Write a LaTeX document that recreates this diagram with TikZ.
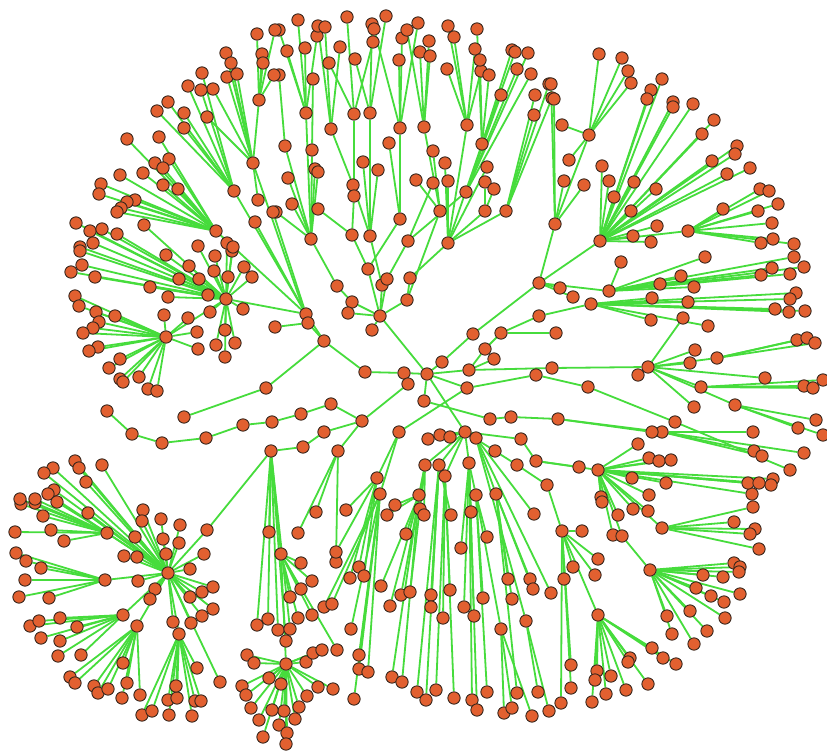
\documentclass[tikz,border=0pt]{standalone}
\pgfdeclarelayer{bg}
\pgfsetlayers{bg,main}
\definecolor{vfill}{RGB}{226,96,48}
\definecolor{vline}{RGB}{55,38,28}
\definecolor{egreen}{RGB}{70,220,60}
\tikzset{
  v/.style={circle,draw=vline,fill=vfill,line width=0.9pt,minimum size=12.3pt,inner sep=0pt},
  e/.style={draw=egreen,line width=1.8pt}
}
% edges are collected here and drawn once, beneath all vertices
\gdef\edgelist{}
\newcommand\addedge[2]{\xdef\edgelist{\unexpanded\expandafter{\edgelist}\noexpand\draw[e] (#1) -- (#2);}}
% a named vertex joined to its parent
\newcommand\tnode[4]{\node[v] (#1) at (#2,#3) {};\addedge{#4}{#1}}
% a set of leaves hanging from one parent
\newcommand\tfan[2]{\foreach \px/\py [count=\i] in {#2}{%
  \node[v] (#1-\i) at (\px,\py) {};\addedge{#1}{#1-\i}}}
\begin{document}
\begin{tikzpicture}[x=1pt,y=-1pt]
\useasboundingbox (0,0) rectangle (827,751);
% ---- centre
\node[v] (R) at (427,374) {};
\tnode{A}{404}{373}{R}
\tnode{B}{408}{384}{A}
\tnode{C}{365}{372}{A}
\tnode{I}{324}{341}{C}
\tnode{E}{442}{362}{R}
\tnode{F}{469}{370}{R}
\tnode{G}{467}{388}{R}
\tnode{D}{424}{401}{R}
\tnode{H}{380}{316}{R}
\tnode{K}{465}{432}{R}
\tnode{J}{362}{421}{B}
% ---- upper fan
\tnode{Hb}{382}{285}{H}
\tnode{Ha}{368}{269}{H}
\tnode{He}{387}{279}{H}
\tnode{Hd}{407}{300}{H}
\tnode{Hc}{410}{278}{Hd}
\tnode{H2}{352}{302}{H}
\tnode{H1}{348}{313}{H}
\tnode{H3}{337}{286}{H2}
\tfan{H}{372/330}
\tnode{T1}{311}{239}{H3}
\tnode{T2}{352}{235}{Ha}
\tnode{T3}{370}{236}{Hb}
\tnode{T4}{408}{241}{He}
\tnode{T5}{448}{243}{Hc}
\tnode{T6}{400}{219}{Ha}
\tnode{T7}{440}{211}{Hd}
\tnode{T8}{353}{185}{T3}
\tnode{T9}{354}{196}{T2}
\tnode{S1}{306}{113}{T1}
\tnode{S2}{331}{129}{T8}
\tnode{S3}{354}{114}{T9}
\tnode{S4}{370}{113}{T3}
\tnode{S5}{400}{128}{T6}
\tnode{S6}{424}{127}{T7}
\tnode{S7}{467}{125}{T5}
\tnode{S8}{482}{144}{T5}
\tnode{S13}{285}{146}{T1}
\tnode{S14}{312}{150}{T1}
\tnode{S15}{389}{143}{T6}
\tnode{S16}{466}{192}{T4}
\tnode{Q1}{485}{211}{T5}
\tnode{Q2}{506}{211}{T5}
\tfan{S1}{298/20,317/36,279/30,287/51,305/48}
\tfan{S2}{318/26,325/27,340/47}
\tfan{S3}{347/17,373/42,329/63}
\tfan{S4}{386/16,372/24,355/59}
\tfan{S5}{374/29,418/23,402/38,399/60}
\tfan{S6}{407/30,429/41,420/52,430/56}
\tfan{S7}{448/26,454/37,475/49,447/69,481/71}
\tfan{S8}{477/29,480/60,489/75,512/50,515/52}
\tfan{S16}{528/53,517/69,531/74,501/95}
\tfan{Q2}{535/95,552/98,534/115,549/84}
\tfan{S13}{279/75}
\tfan{S14}{313/79}
\tfan{T1}{315/169,318/172,288/178,292/204,276/212}
\tfan{T2}{318/209}
\tfan{T3}{363/162,378/170}
\tfan{T7}{433/151,416/180}
\tfan{T4}{433/183}
\tfan{T5}{445/163,448/181,487/167}
\tfan{Q1}{485/182,494/189}
% ---- upper left
\tnode{I1}{306}{314}{I}
\tnode{I2}{308}{323}{I}
\tnode{S11}{216}{231}{I1}
\tnode{S10}{234}{191}{I1}
\tnode{S9}{253}{163}{I2}
\tnode{S12}{259}{100}{S9}
\tfan{S12}{257/34,275/30,262/54,263/63,274/75}
\tfan{S9}{226/53,231/63,227/77,237/74,213/89,207/117,258/200}
\tfan{S10}{202/73,188/86,201/90,168/102,184/113,184/128,157/111}
\tfan{S11}{127/139,159/137,155/163,169/159,163/168,143/173,120/175,163/185,178/189,101/184,99/194,135/200,127/202,121/208,117/212}
\tfan{I1}{273/212,255/222}
\tfan{I2}{275/327}
\tnode{U1}{226}{299}{I1}
\tnode{U2}{166}{337}{U1}
\tfan{U1}{232/251,244/267,252/277,228/277,215/256,214/271,189/266,199/279,208/295,243/309,225/330,235/343,216/345,225/357,210/312,179/279,166/255,150/287,168/297,76/223,90/231,102/229,117/234,144/225,93/243,80/247,80/251,82/265,71/272,95/277,227/243,233/247,198/246}
\tfan{U2}{75/296,79/306,96/312,115/316,99/322,93/328,83/333,164/315,188/318,197/332,198/349,98/347,89/351,120/359,109/368,139/377,120/379,123/382,148/389,157/391}
\tnode{I3}{266}{388}{I}
\tfan{I3}{184/417}
% ---- left chain
\tnode{J1}{331}{404}{J}
\tnode{J2}{301}{414}{J1}
\tnode{J3}{272}{422}{J2}
\tnode{J4}{243}{425}{J3}
\tnode{J5}{206}{438}{J4}
\tnode{J6}{162}{443}{J5}
\tnode{J7}{132}{434}{J6}
\tnode{J8}{107}{411}{J7}
% ---- lower left
\tnode{J9}{324}{432}{J}
\tnode{J10}{303}{447}{J9}
\tnode{L}{271}{451}{J10}
\tnode{J11}{338}{451}{J}
\tnode{LM}{207}{530}{L}
\tnode{M}{168}{573}{LM}
\tnode{M1}{105}{580}{M}
\tnode{M2}{107}{533}{M}
\tnode{M3}{123}{615}{M}
\tnode{M4}{137}{626}{M}
\tnode{M5}{179}{634}{M}
\tfan{M}{75/461,79/468,53/468,44/473,102/465,86/482,54/490,48/494,88/513,143/510,142/521,161/519,180/525,135/537,163/539,179/543,124/556,137/557,166/554,190/569,204/554,138/581,155/589,150/599,190/597,202/592,213/587,213/609,202/616,173/622,191/623,220/682}
\tfan{M2}{21/504,35/503,57/502,15/532,51/530,43/516,64/541,20/499,35/499}
\tfan{M1}{25/580,19/597,49/598,16/553,26/561,41/568}
\tfan{M3}{30/626,39/621,60/618,41/638,60/641,58/656,81/655,77/627}
\tfan{M4}{70/677,75/683,94/686,98/693,108/689,123/663,127/683,122/698,140/695}
\tfan{M5}{142/715,152/711,169/715,168/700,177/698,176/686,192/716,195/701,201/701,197/668}
\tnode{L2}{281}{554}{L}
\tnode{N}{286}{664}{L2}
\tfan{L}{269/532,257/625,268/619,278/630,290/629,286/641}
\tfan{L2}{301/563,312/581,301/589,290/597,312/615,298/618,337/650}
\tfan{N}{281/684,318/687,333/689,307/696,299/707,284/711,295/719,279/725,287/733,286/744,269/678,242/686,246/695,251/708,272/710,259/720,263/737,306/662,313/653,322/650,247/655,254/663}
\tfan{J11}{316/512,298/533,336/562}
% ---- lower middle
\tnode{G1}{399}{432}{G}
\tnode{G2}{377}{478}{G1}
\tnode{G3}{380}{494}{G1}
\tfan{G2}{346/510,359/567,364/576,350/578,336/552}
\tfan{G3}{359/655,359/669,368/672,354/699,351/629,324/607,332/604}
\tnode{G4}{536}{375}{G}
\tnode{G5}{588}{387}{G4}
\tnode{G6}{675}{422}{G5}
\tfan{G6}{790/470}
\tnode{K1}{428}{439}{K}
\tnode{K2}{440}{435}{K}
\tnode{K3}{450}{437}{K}
\tnode{K4}{476}{438}{K}
\tnode{K5}{425}{465}{K}
\tnode{K6}{439}{465}{K}
\tnode{K7}{445}{476}{K}
\tnode{K8}{469}{463}{K}
\tnode{K9}{419}{495}{K5}
\tnode{K10}{476}{495}{K8}
\tnode{K11}{496}{494}{K4}
\tnode{K17}{501}{629}{K10}
\tnode{K18}{526}{621}{K4}
\tfan{K9}{395/505,387/515,406/534,390/606,381/586,392/677,402/682}
\tfan{K5}{420/509,424/515,401/595,410/592}
\tfan{K6}{451/515,417/692,426/700,431/595,431/607}
\tfan{K7}{443/618,436/690,454/698,450/590}
\tfan{K8}{461/548,471/512,464/607,474/616,472/700,477/710}
\tfan{K10}{487/537,483/598,487/692}
\tfan{K17}{504/713,512/708,532/716}
\tfan{K11}{508/579,512/599,517/693,530/579,533/589}
\tfan{K4}{534/514,551/593}
\tfan{K18}{538/692,549/711}
% ---- lower right
\tnode{K12}{521}{439}{K}
\tnode{K13}{495}{451}{K}
\tnode{K14}{517}{465}{K13}
\tnode{K15}{536}{461}{K12}
\tnode{K16}{547}{485}{K14}
\tnode{H6}{598}{470}{K15}
\tfan{K15}{579/467}
\tfan{H6}{638/444,649/458,659/461,671/460,632/478,666/483,773/479,771/485,752/494,748/483,759/483,601/497,649/495,602/502,633/509,648/511,618/515,613/535}
\tnode{H7}{622}{536}{H6}
\tnode{H8}{662}{528}{H6}
\tfan{H8}{734/522,755/529,750/534,759/549,753/507}
\tnode{Z2}{650}{570}{H7}
\tnode{Z1}{562}{531}{K16}
\tnode{Z3}{598}{615}{Z1}
\tfan{Z1}{582/531,573/567,564/579,595/575,598/559,571/665,571/688,561/703}
\tfan{Z2}{734/563,740/567,739/572,703/575,723/577,696/588,711/596,724/602,740/594,690/611,725/618,707/631,694/644,667/616,672/634}
\tfan{Z3}{652/648,630/658,628/662,663/658,676/664,597/671,595/680,611/676,606/694,626/690,648/684,592/702}
\tnode{D1}{490}{419}{D}
\tnode{D2}{511}{417}{D1}
\tnode{D3}{558}{419}{D2}
\tnode{D4}{662}{432}{D3}
\tfan{D3}{652/432}
\tfan{D4}{753/432,754/451,762/456,804/453}
% ---- upper right
\tnode{E1}{473}{334}{E}
\tnode{E2}{539}{283}{E1}
\tnode{UR0}{555}{224}{E2}
\tnode{UR1}{589}{135}{UR0}
\tnode{UR2}{600}{241}{E2}
\tnode{UR2a}{688}{231}{UR2}
\tnode{UR3}{609}{291}{E2}
\tfan{UR0}{551/84,554/99,564/181,584/185}
\tfan{UR1}{599/54,622/58,628/71,631/83,562/125,569/160}
\tfan{UR2}{662/79,651/90,647/99,673/102,673/107,693/104,714/120,702/134,737/146,735/154,712/161,750/168,727/174,656/189,631/211,657/226,633/236,651/242,602/166,609/181,614/197,634/182}
\tfan{UR2a}{760/189,769/191,778/204,723/209,758/211,772/223,773/239,761/243,794/244}
\tfan{UR3}{621/262,705/257,681/276,660/284,694/287,761/275,772/268,790/274,794/257,804/267}
\tfan{E2}{560/288,573/297}
% ---- right
\tnode{F1}{485}{349}{F}
\tnode{F2}{501}{333}{F1}
\tnode{F3}{539}{316}{F2}
\tnode{UR4}{591}{304}{F3}
\tfan{F2}{556/333}
\tfan{F}{494/359}
\tfan{UR4}{652/298,688/302,775/309,789/312,805/311,651/320,708/326,796/293,790/299}
\tnode{F4}{552}{368}{F}
\tnode{P}{648}{367}{F4}
\tfan{P}{683/318,695/350,690/363,638/375,765/378,694/407}
\tnode{P1}{717}{358}{P}
\tnode{P2}{701}{387}{P}
\tnode{P3}{735}{405}{P}
\tfan{P1}{797/340,807/338,815/343}
\tfan{P2}{804/386,813/388,823/380}
\tfan{P3}{816/420,798/428,823/435}
% ---- all connectors, beneath the vertices
\begin{pgfonlayer}{bg}
\fill[white] (0,0) rectangle (827,751);
\edgelist
\end{pgfonlayer}
\end{tikzpicture}
\end{document}
